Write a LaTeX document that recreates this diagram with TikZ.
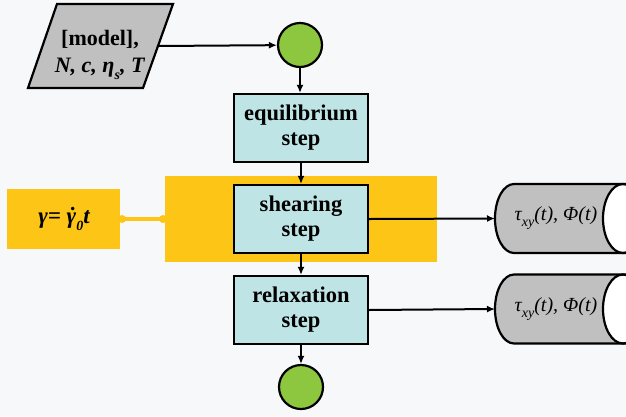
\documentclass[tikz,border=0pt]{standalone}
\usepackage{fontspec}
\setmainfont{Liberation Serif}
\usetikzlibrary{arrows.meta}
\definecolor{bgc}{RGB}{247,248,250}
\definecolor{boxc}{RGB}{190,228,230}
\definecolor{grayc}{RGB}{192,192,192}
\definecolor{yelc}{RGB}{253,198,22}
\definecolor{grnc}{RGB}{141,198,63}
\newcommand{\mysub}[1]{\raisebox{-0.3em}{\fontsize{14}{14}\selectfont #1}}
\begin{document}
\begin{tikzpicture}[x=1pt,y=-1pt]
\tikzset{
  outl/.style={draw=black,line width=2.2pt},
  stepbox/.style={outl,fill=boxc,minimum width=134pt,minimum height=68pt,inner sep=0pt,
     align=center,font=\bfseries\fontsize{22.5}{25}\selectfont},
  term/.style={outl,fill=grnc,circle,minimum size=44pt,inner sep=0pt},
  arr/.style={line width=2pt,-{Latex[length=8pt,width=7pt]}},
  txtlbl/.style={inner sep=0pt,align=center}}
\fill[bgc] (0,0) rectangle (626,416);
% yellow band and label box
\fill[yelc] (165,176) rectangle (437,262);
\fill[yelc] (7,189) rectangle (120,249);
\draw[yelc,line width=4pt] (118,219) -- (167,219);
\fill[yelc] (122,219) circle[radius=4pt];
\fill[yelc] (163,219) circle[radius=4pt];
% nodes
\node[stepbox] (eq) at (301,128) {equilibrium\\step};
\node[stepbox] (sh) at (301,219) {shearing\\step};
\node[stepbox] (rx) at (301,310) {relaxation\\step};
\node[term] (c1) at (300,45) {};
\node[term] (c2) at (301,387) {};
% input parallelogram
\draw[outl,fill=grayc] (57,4) -- (173,4) -- (143,88) -- (28,88) -- cycle;
\node[txtlbl,font=\bfseries\fontsize{22}{27}\selectfont] (in) at (100,55)
  {[model],\\ \textit{N, c, η\mysub{s}, T}};
\coordinate (inr) at (158,46);
% storage shapes
\begin{scope}
\clip (0,0) rectangle (626,416);
\foreach \yc in {218.5,309}{
  \fill[grayc] (514,\yc-34.5) -- (650,\yc-34.5) -- (650,\yc+34.5) -- (514,\yc+34.5)
     arc[start angle=90,end angle=270,x radius=19,y radius=34.5] -- cycle;
  \draw[outl,fill=white] (623,\yc) ellipse[x radius=20,y radius=34.5];
  \draw[outl] (650,\yc-34.5) -- (514,\yc-34.5)
     arc[start angle=270,end angle=90,x radius=19,y radius=34.5] -- (650,\yc+34.5);
}
\end{scope}
\node[txtlbl,font=\itshape\fontsize{20}{24}\selectfont] (s1) at (556,218.5) {τ\mysub{xy}(t), Φ(t)};
\node[txtlbl,font=\itshape\fontsize{20}{24}\selectfont] (s2) at (556,309) {τ\mysub{xy}(t), Φ(t)};
\coordinate (s1w) at (495,218.5);
\coordinate (s2w) at (495,309);
% connectors
\draw[arr] (inr) -- (c1);
\draw[arr] (c1) -- (c1 |- eq.north);
\draw[arr] (eq) -- (sh);
\draw[arr] (sh) -- (rx);
\draw[arr] (rx) -- (c2);
\draw[arr] (sh.east) -- (s1w);
\draw[arr] (rx.east) -- (s2w);
\node[txtlbl,font=\bfseries\itshape\fontsize{23}{26}\selectfont] (gam) at (64,219) {γ= \accent"02D9 γ\mysub{0}t};
\useasboundingbox (0,0) rectangle (626,416);
\end{tikzpicture}
\end{document}
